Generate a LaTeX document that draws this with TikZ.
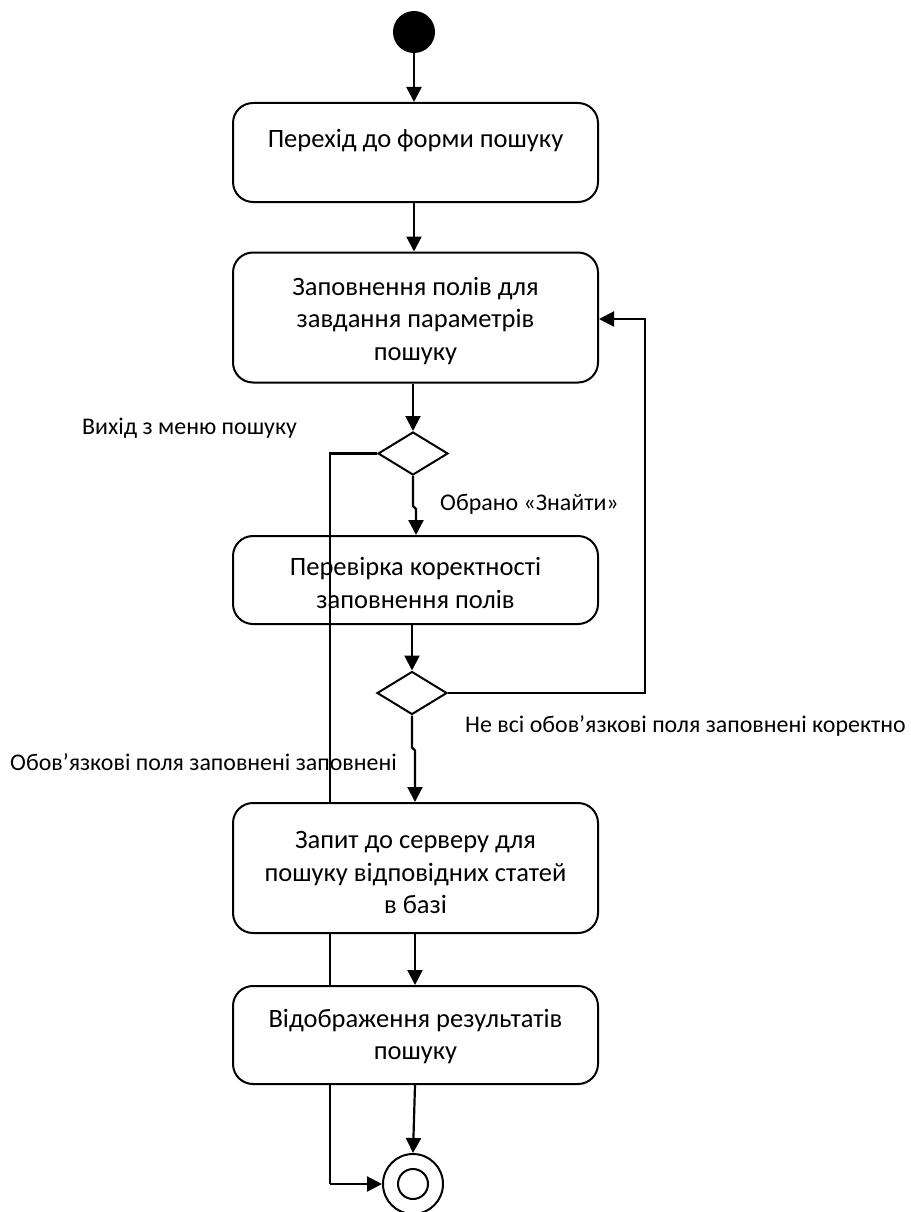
\documentclass[tikz,border=0pt]{standalone}
\usepackage{fontspec}
\setmainfont{Carlito}
\usetikzlibrary{arrows.meta,shapes.geometric}
\tikzset{
  actbox/.style={draw, line width=2pt, rounded corners=20pt, fill=white,
    minimum width=365pt, inner sep=0pt},
  acttext/.style={inner sep=0pt, align=center, font=\fontsize{26.5}{32.5}\selectfont},
  choice/.style={draw, diamond, line width=2pt, fill=white, inner sep=0pt,
    minimum width=70pt, minimum height=43pt},
  flow/.style={line width=2.2pt, -{Triangle[length=15pt,width=15pt]}},
  plain/.style={line width=2.2pt},
  note/.style={anchor=west, inner sep=0pt, font=\fontsize{23.9}{28}\selectfont}
}
\begin{document}
\begin{tikzpicture}[x=1pt,y=-1pt]
\useasboundingbox (0,0) rectangle (910,1212);

% start state
\node[circle, fill=black, minimum size=42pt, inner sep=0pt] (start) at (414,32) {};

% upper activities
\node[actbox, minimum height=99pt] (b1) at (415.5,152.5) {};
\node[acttext] (t1) at (415.5,141) {Перехід до форми пошуку};
\node[actbox, minimum height=130pt] (b2) at (415.5,317.5) {};
\node[acttext] (t2) at (415.5,321) {Заповнення полів для\\завдання параметрів\\пошуку};
\node[actbox, minimum height=88pt] (b3) at (415.5,580) {};
\node[acttext] (t3) at (415.5,583) {Перевірка коректності\\заповнення полів};

% decisions
\node[choice] (d1) at (413,453.5) {};
\node[choice] (d2) at (412,693) {};

% guard labels
\node[note] (l1) at (82,428) {Вихід з меню пошуку};
\node[note] (l2) at (440,504) {Обрано «Знайти»};
\node[note] (l3) at (465,726) {Не всі обов’язкові поля заповнені коректно};
\node[note] (l4) at (10,762) {Обов’язкові поля заповнені заповнені};

% exit path running down the left side
\coordinate (lp) at (330,1184);
\draw[plain] (d1.west) -| (lp);

% lower activities (drawn over the exit path)
\node[actbox, minimum height=130pt] (b4) at (415.5,868) {};
\node[acttext] (t4) at (415.5,873) {Запит до серверу для\\пошуку відповідних статей\\в базі};
\node[actbox, minimum height=98pt] (b5) at (415.5,1035) {};
\node[acttext] (t5) at (415.5,1036.5) {Відображення результатів\\пошуку};

% final state
\node[circle, draw, line width=2pt, fill=white, minimum size=60pt, inner sep=0pt] (end) at (413,1184) {};
\node[circle, draw, line width=2pt, minimum size=30pt, inner sep=0pt] (endin) at (end.center) {};

% control flow
\draw[flow] (start) -- (b1.north -| start);
\draw[flow] (b1.south -| start) -- (b2.north -| start);
\draw[flow] (b2.south -| d1) -- (d1.north);
\draw[flow] (d1.south) -- ++(0,30) -- ++(3,3) -- (b3.north -| 416,0);
\draw[flow] (b3.south -| d2) -- (d2.north);
\coordinate (rt) at (645,693);
\coordinate (rb) at (645,319);
\draw[flow] (d2.east) -- (rt) -- (rb) -- (b2.east |- rb);
\draw[flow] (d2.south) -- ++(0,32) -- ++(3,3) -- (b4.north -| 415,0);
\draw[flow] (b4.south -| 415,0) -- (b5.north -| 415,0);
\draw[flow] (b5.south -| 415,0) -- (end.north);
\draw[flow] (lp) -- (end.west);
\end{tikzpicture}
\end{document}
